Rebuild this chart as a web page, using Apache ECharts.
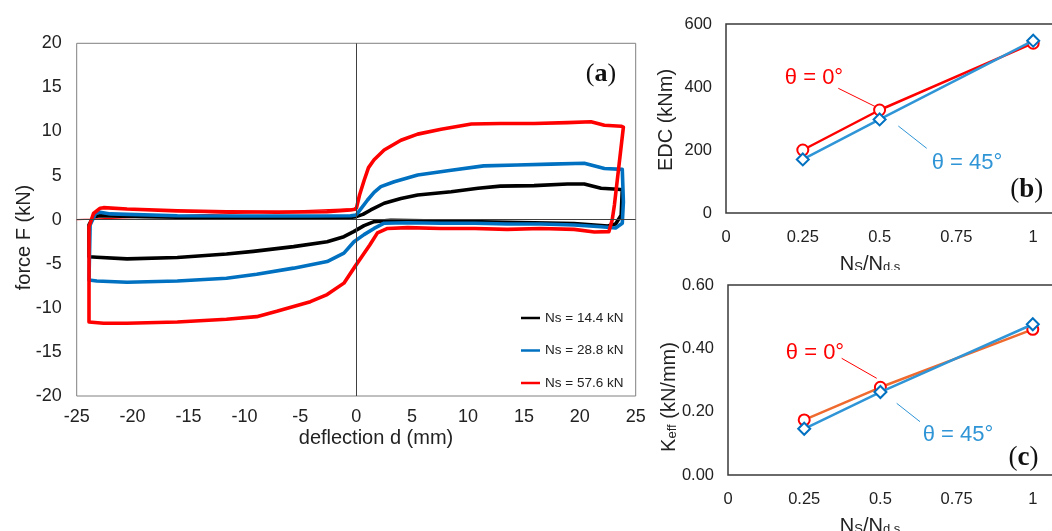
<!DOCTYPE html>
<html>
<head>
<meta charset="utf-8">
<script src="https://cdn.jsdelivr.net/npm/echarts@6/dist/echarts.min.js"></script>
<style>
  html, body { margin: 0; padding: 0; background: #fff; }
  #chart { width: 1052px; height: 531px; }
</style>
</head>
<body>
<div id="chart"></div>
<script>
// ---- (a) force-deflection hysteresis loops, [deflection d (mm), force F (kN)] ----
const loopNs14 = [
  [0,0.34],[0.6,0.6],[1.3,1.1],[2.5,1.86],[4.0,2.4],[5.5,2.8],[8.5,3.17],[10.9,3.56],[12.9,3.8],
  [15.9,3.86],[18.9,4.05],[20.4,4.05],[21.9,3.56],[23.4,3.45],[23.8,3.4],[23.7,0.5],[23.2,-0.5],
  [22.5,-0.72],[19.5,-0.45],[13.5,-0.3],[7.6,-0.15],[3.1,-0.07],[1.6,-0.22],[0.7,-0.68],[-0.23,-1.36],
  [-1.1,-1.93],[-2.6,-2.5],[-5.6,-3.06],[-9.2,-3.6],[-11.6,-3.9],[-16.0,-4.3],[-20.5,-4.45],
  [-23.2,-4.26],[-23.9,-4.2],[-23.9,-0.6],[-23.5,0.34],[-22.9,0.45],[-19,0.34],[-13,0.23],
  [-7.1,0.16],[-1.1,0.16],[0,0.34]
];
const loopNs28 = [
  [0,0.53],[0.4,1.2],[1.0,2.2],[1.6,3.1],[2.2,3.75],[3.4,4.3],[5.5,5.07],[8.5,5.6],[11.4,6.1],
  [14.4,6.2],[17.4,6.3],[20.4,6.4],[22.2,5.8],[23.8,5.7],[23.9,2.0],[23.8,-0.4],[23.2,-0.95],
  [21.9,-0.8],[19.5,-0.6],[16.5,-0.5],[13.5,-0.5],[10.6,-0.4],[7.6,-0.4],[4.6,-0.35],[2.5,-0.4],
  [1.6,-1.0],[0.7,-1.7],[-0.2,-2.5],[-1.1,-3.8],[-2.6,-4.75],[-5.6,-5.5],[-8.9,-6.2],[-11.6,-6.65],
  [-16.0,-6.95],[-20.5,-7.1],[-23.2,-6.95],[-23.9,-6.85],[-23.8,-0.6],[-23.3,0.73],[-22.9,0.84],
  [-22.0,0.65],[-16,0.45],[-10.1,0.42],[-4.1,0.42],[-0.5,0.45],[0,0.53]
];
const loopNs57 = [
  [0,1.2],[0.3,2.8],[0.72,4.5],[1.1,5.9],[1.6,6.8],[2.5,7.9],[4.0,9.0],[5.5,9.7],[7.6,10.25],
  [10.3,10.85],[12.9,10.9],[15.9,10.9],[18.9,11.0],[21.0,11.1],[22.2,10.7],[23.7,10.6],[23.9,10.5],
  [23.1,1.7],[22.9,0],[22.6,-1.36],[21.3,-1.4],[19.5,-1.1],[16.5,-1.0],[13.5,-1.1],[10.6,-1.0],
  [7.6,-1.0],[4.6,-0.9],[2.8,-1.0],[1.9,-1.5],[1.2,-2.9],[0.6,-4.0],[-0.1,-5.3],[-1.1,-7.2],
  [-2.6,-8.5],[-4.1,-9.3],[-7.1,-10.4],[-8.9,-11.0],[-11.6,-11.3],[-16.0,-11.6],[-20.5,-11.75],
  [-22.6,-11.75],[-23.9,-11.6],[-23.9,-0.8],[-23.5,0.7],[-22.9,1.3],[-22.6,1.36],[-20.5,1.2],
  [-16,1.0],[-11.6,0.9],[-7.1,0.85],[-2.6,0.9],[-0.5,1.1],[0,1.2]
];
// first, sparsely recorded pass of the 57.6 kN test
const firstPassNs57 = [[-25,0],[-23.6,0.05],[-0.2,1.25],[0.1,1.6]];
const loopNames = ['Ns = 14.4 kN', 'Ns = 28.8 kN', 'Ns = 57.6 kN'];

// ---- (b) and (c) versus axial load ratio Ns/Nd,s ----
const ratio = [0.25, 0.5, 1];
const edcTheta0 = [200, 327, 539];
const edcTheta45 = [170, 297, 547];
const keffTheta0 = [0.174, 0.277, 0.46];
const keffTheta45 = [0.146, 0.262, 0.476];

// tick values
const dTicks = { min: -25, max: 25, step: 5 };
const fTicks = { min: -20, max: 20, step: 5 };
const ratioTicks = { min: 0, max: 1.25, step: 0.25 };
const edcTicks = { min: 0, max: 600, step: 200 };
const keffTicks = { min: 0, max: 0.6, step: 0.2 };

const SANS = '"Liberation Sans", Arial, sans-serif';
const SERIF = '"Liberation Serif", "Times New Roman", serif';
const RED = '#ff0000';
const BLUE = '#0070c0';
const LIGHT_BLUE = '#2f95d6';
const ORANGE = '#ef6a2e';
const TEXT = '#222';

const pairs = (xs, ys) => xs.map((x, i) => [x, ys[i]]);

function valueAxis(grid, t, size, margin, fmt) {
  return {
    type: 'value', gridIndex: grid, min: t.min, max: t.max, interval: t.step,
    axisLine: { show: false }, axisTick: { show: false }, splitLine: { show: false },
    axisLabel: { fontFamily: SANS, fontSize: size, color: TEXT, margin: margin, formatter: fmt }
  };
}

function loopSeries(name, data, color) {
  return {
    name: name, type: 'line', xAxisIndex: 0, yAxisIndex: 0, data: data,
    showSymbol: false, symbol: 'none', animation: false, z: 3,
    itemStyle: { color: color },
    lineStyle: { color: color, width: 3.6, join: 'round' }
  };
}

function ratioSeries(grid, data, lineColor, markColor, symbol, z) {
  return {
    type: 'line', xAxisIndex: grid, yAxisIndex: grid, data: data,
    symbol: symbol, symbolSize: symbol === 'emptyCircle' ? 11 : 12, animation: false, z: z,
    lineStyle: { color: lineColor, width: 2.5 },
    itemStyle: { color: markColor, borderColor: markColor, borderWidth: 2 }
  };
}

const chart = echarts.init(document.getElementById('chart'), null, { renderer: 'canvas' });

chart.setOption({
  backgroundColor: '#fff',
  animation: false,
  grid: [
    { left: 76.7, top: 43.3, width: 559, height: 352.7, show: true, borderColor: '#808080', borderWidth: 1, outerBoundsMode: 'none' },
    { left: 726, top: 24, width: 384, height: 189, show: true, borderColor: '#3a3a3a', borderWidth: 1.5, outerBoundsMode: 'none' },
    { left: 728, top: 285, width: 381, height: 190, show: true, borderColor: '#3a3a3a', borderWidth: 1.5, outerBoundsMode: 'none' }
  ],
  xAxis: [
    valueAxis(0, dTicks, 18, 12),
    valueAxis(1, ratioTicks, 16.5, 16),
    valueAxis(2, ratioTicks, 16.5, 16)
  ],
  yAxis: [
    valueAxis(0, fTicks, 18, 15),
    valueAxis(1, edcTicks, 16.5, 14),
    valueAxis(2, keffTicks, 16.5, 14, v => v.toFixed(2))
  ],
  legend: {
    data: loopNames, orient: 'vertical', left: 516, top: 305,
    icon: 'rect', itemWidth: 19, itemHeight: 2.5, itemGap: 16.5,
    textStyle: { fontFamily: SANS, fontSize: 13.5, color: TEXT, lineHeight: 16 },
    selectedMode: false
  },
  series: [
    {
      name: 'first pass 57.6 kN', type: 'line', xAxisIndex: 0, yAxisIndex: 0,
      data: firstPassNs57, showSymbol: false, symbol: 'none', z: 2,
      lineStyle: { color: RED, width: 1.2 },
      markLine: {
        silent: true, symbol: 'none', animation: false,
        label: { show: false },
        lineStyle: { color: '#404040', width: 1, type: 'solid' },
        data: [{ xAxis: 0 }, { yAxis: 0 }]
      }
    },
    loopSeries(loopNames[0], loopNs14, '#000000'),
    loopSeries(loopNames[1], loopNs28, BLUE),
    loopSeries(loopNames[2], loopNs57, RED),
    ratioSeries(1, pairs(ratio, edcTheta0), RED, RED, 'emptyCircle', 3),
    ratioSeries(1, pairs(ratio, edcTheta45), LIGHT_BLUE, BLUE, 'emptyDiamond', 4),
    ratioSeries(2, pairs(ratio, keffTheta0), ORANGE, RED, 'emptyCircle', 3),
    ratioSeries(2, pairs(ratio, keffTheta45), LIGHT_BLUE, BLUE, 'emptyDiamond', 4)
  ],
  graphic: [
    // axis titles
    { type: 'text', x: 24, y: 237.5, rotation: Math.PI / 2, silent: true,
      style: { text: 'force F (kN)', font: '20px ' + SANS, fill: TEXT, align: 'center', verticalAlign: 'middle' } },
    { type: 'text', x: 376, y: 438, silent: true,
      style: { text: 'deflection d (mm)', font: '20px ' + SANS, fill: TEXT, align: 'center', verticalAlign: 'middle' } },
    { type: 'text', x: 666, y: 120, rotation: Math.PI / 2, silent: true,
      style: { text: 'EDC (kNm)', font: '20px ' + SANS, fill: TEXT, align: 'center', verticalAlign: 'middle' } },
    { type: 'text', x: 667, y: 397, rotation: Math.PI / 2, silent: true,
      style: {
        text: '{m|K}{s|eff}{m| (kN/mm)}', align: 'center', verticalAlign: 'middle', fill: TEXT,
        rich: {
          m: { fontFamily: SANS, fontSize: 20, lineHeight: 24, verticalAlign: 'bottom', fill: TEXT },
          s: { fontFamily: SANS, fontSize: 13, lineHeight: 10, verticalAlign: 'bottom', fill: TEXT }
        }
      } },
    { type: 'text', x: 870, y: 262, silent: true, z: 10,
      style: {
        text: '{m|N}{s|S}{m|/N}{s|d,s}', align: 'center', verticalAlign: 'middle', fill: TEXT,
        rich: {
          m: { fontFamily: SANS, fontSize: 20, lineHeight: 24, verticalAlign: 'bottom', fill: TEXT },
          s: { fontFamily: SANS, fontSize: 13, lineHeight: 10, verticalAlign: 'bottom', fill: TEXT }
        }
      } },
    { type: 'rect', z: 11, silent: true, shape: { x: 800, y: 270, width: 140, height: 10 }, style: { fill: '#fff' } },
    { type: 'text', x: 870, y: 524, silent: true,
      style: {
        text: '{m|N}{s|S}{m|/N}{s|d,s}', align: 'center', verticalAlign: 'middle', fill: TEXT,
        rich: {
          m: { fontFamily: SANS, fontSize: 20, lineHeight: 24, verticalAlign: 'bottom', fill: TEXT },
          s: { fontFamily: SANS, fontSize: 13, lineHeight: 10, verticalAlign: 'bottom', fill: TEXT }
        }
      } },
    // panel letters
    { type: 'text', x: 601, y: 74, silent: true,
      style: { text: '{p|(}{b|a}{p|)}', align: 'center', verticalAlign: 'middle',
        rich: { p: { fontFamily: SERIF, fontSize: 26, fill: '#111' }, b: { fontFamily: SERIF, fontSize: 26, fontWeight: 'bold', fill: '#111' } } } },
    { type: 'text', x: 1026.7, y: 190, silent: true,
      style: { text: '{p|(}{b|b}{p|)}', align: 'center', verticalAlign: 'middle',
        rich: { p: { fontFamily: SERIF, fontSize: 27, fill: '#111' }, b: { fontFamily: SERIF, fontSize: 27, fontWeight: 'bold', fill: '#111' } } } },
    { type: 'text', x: 1023.5, y: 458, silent: true,
      style: { text: '{p|(}{b|c}{p|)}', align: 'center', verticalAlign: 'middle',
        rich: { p: { fontFamily: SERIF, fontSize: 27, fill: '#111' }, b: { fontFamily: SERIF, fontSize: 27, fontWeight: 'bold', fill: '#111' } } } },
    // series labels with leader lines, panel (b)
    { type: 'text', x: 814, y: 78, silent: true,
      style: { text: 'θ = 0°', font: '22px ' + SANS, fill: RED, align: 'center', verticalAlign: 'middle' } },
    { type: 'line', silent: true, shape: { x1: 838.3, y1: 88.3, x2: 876.7, y2: 107.3 }, style: { stroke: RED, lineWidth: 1 } },
    { type: 'text', x: 967, y: 163, silent: true,
      style: { text: 'θ = 45°', font: '22px ' + SANS, fill: LIGHT_BLUE, align: 'center', verticalAlign: 'middle' } },
    { type: 'line', silent: true, shape: { x1: 898.3, y1: 126, x2: 926.7, y2: 148.3 }, style: { stroke: LIGHT_BLUE, lineWidth: 1 } },
    // series labels with leader lines, panel (c)
    { type: 'text', x: 815, y: 353, silent: true,
      style: { text: 'θ = 0°', font: '22px ' + SANS, fill: RED, align: 'center', verticalAlign: 'middle' } },
    { type: 'line', silent: true, shape: { x1: 841.7, y1: 358.3, x2: 876.7, y2: 378.3 }, style: { stroke: RED, lineWidth: 1 } },
    { type: 'text', x: 958, y: 435, silent: true,
      style: { text: 'θ = 45°', font: '22px ' + SANS, fill: LIGHT_BLUE, align: 'center', verticalAlign: 'middle' } },
    { type: 'line', silent: true, shape: { x1: 896.7, y1: 403.3, x2: 920, y2: 421.7 }, style: { stroke: LIGHT_BLUE, lineWidth: 1 } }
  ]
});
</script>
</body>
</html>
